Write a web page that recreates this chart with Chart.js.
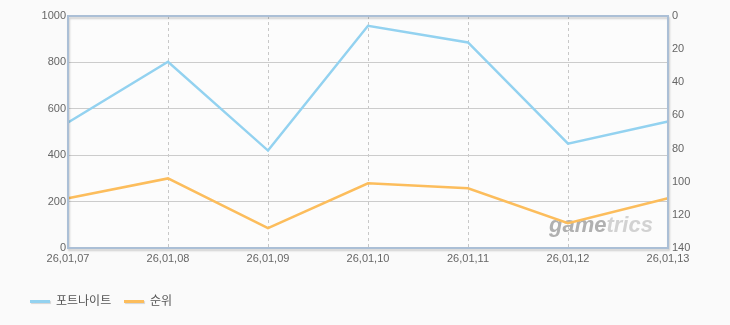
<!DOCTYPE html>
<html>
<head>
<meta charset="utf-8">
<script src="https://cdn.jsdelivr.net/npm/chart.js@4"></script>
<style>
	html, body { margin:0; padding:0; background:#fafafa; }
	#wrap { position:relative; width:730px; height:325px; }
	#legend { position:absolute; left:30px; top:292px; font:12px "Noto Sans CJK KR", sans-serif; color:#555; }
	#legend span.item { position:absolute; white-space:nowrap; top:0; }
	#legend i { position:absolute; top:8px; width:20px; height:3px; box-shadow:1px 1px 1px rgba(0,0,0,0.15); }
	#legend b { position:absolute; left:26px; top:-1px; font-weight:normal; }
</style>
</head>
<body>
<div id="wrap">
	<canvas id="myChart" width="730" height="325"></canvas>
	<div id="legend"></div>
</div>
<script>
let dates = ['26,01,07', '26,01,08', '26,01,09', '26,01,10', '26,01,11', '26,01,12', '26,01,13'];
let fortnite = [541, 803, 420, 958, 886, 450, 545];
let rank = [110, 98, 128, 101, 104, 125, 110];
let seriesNames = ['포트나이트', '순위'];
let colors = ['#93d2f0', '#fcbd5c'];

const frame = {
	id:'frame',
	beforeDraw(chart) {
		let a = chart.chartArea, ctx = chart.ctx;
		ctx.save();
		ctx.fillStyle = '#fcfcfc';
		ctx.fillRect(a.left, a.top, a.right - a.left, a.bottom - a.top);
		ctx.restore();
	},
	beforeDatasetsDraw(chart) {
		let a = chart.chartArea, ctx = chart.ctx;
		ctx.save();
		ctx.font = 'italic bold 22px "Liberation Sans", Arial, sans-serif';
		ctx.textBaseline = 'alphabetic';
		let x = a.right - 119, y = a.bottom - 16;
		ctx.fillStyle = '#b0b0b0';
		ctx.fillText('game', x, y);
		ctx.fillStyle = '#d2d2d2';
		ctx.fillText('trics', x + ctx.measureText('game').width, y);
		ctx.restore();
	},
	afterDraw(chart) {
		let a = chart.chartArea, ctx = chart.ctx;
		ctx.save();
		ctx.shadowColor = 'rgba(0,0,0,0.18)';
		ctx.shadowOffsetX = 1;
		ctx.shadowOffsetY = 2;
		ctx.shadowBlur = 2;
		ctx.strokeStyle = '#abbfd6';
		ctx.lineWidth = 2;
		ctx.strokeRect(a.left, a.top, a.right - a.left, a.bottom - a.top);
		ctx.restore();
	}
};

const tickFont = { family:'"Liberation Sans", Arial, sans-serif', size:11 };

new Chart(document.getElementById('myChart'), {
	type:'line',
	data:{
		labels:dates,
		datasets:[
			{ label:seriesNames[0], data:fortnite, yAxisID:'y', borderColor:colors[0], borderWidth:2.5, pointRadius:0, tension:0 },
			{ label:seriesNames[1], data:rank, yAxisID:'y1', borderColor:colors[1], borderWidth:2.5, pointRadius:0, tension:0 }
		]
	},
	options:{
		responsive:false,
		animation:false,
		layout:{ padding:{ top:16, bottom:0, left:0, right:0 } },
		plugins:{ legend:{ display:false }, tooltip:{ enabled:false } },
		scales:{
			x:{
				grid:{ color:'#c8c8c8', drawTicks:false },
				border:{ display:false, dash:[3,3] },
				ticks:{ color:'#666', font:tickFont, padding:4, maxRotation:0, autoSkip:false },
				afterFit(s) { s.height = 77; }
			},
			y:{
				position:'left', min:0, max:1000,
				grid:{ color:'#cccccc', drawTicks:false },
				border:{ display:false },
				ticks:{ stepSize:200, color:'#666', font:tickFont, padding:2, callback:v => String(v) },
				afterFit(s) { s.width = 68; }
			},
			y1:{
				position:'right', min:0, max:140, reverse:true,
				grid:{ display:false, drawTicks:false },
				border:{ display:false },
				ticks:{ stepSize:20, color:'#666', font:tickFont, padding:4, callback:v => String(v) },
				afterFit(s) { s.width = 62; }
			}
		}
	},
	plugins:[frame]
});

let legendX = [0, 94];
document.getElementById('legend').innerHTML = seriesNames.map((n, i) =>
	`<span class="item" style="left:${legendX[i]}px"><i style="background:${colors[i]}"></i><b>${n}</b></span>`
).join('');
</script>
</body>
</html>
